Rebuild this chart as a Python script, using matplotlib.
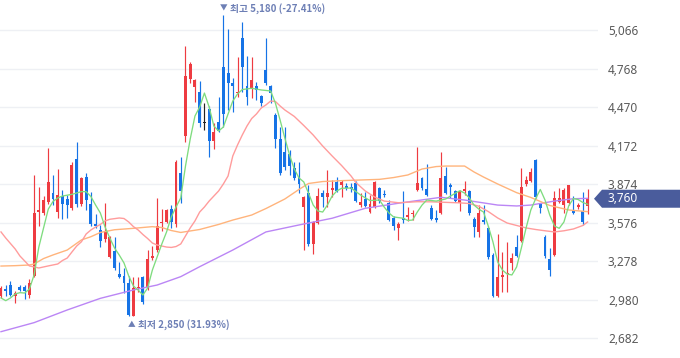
import matplotlib
matplotlib.use("Agg")
import matplotlib.pyplot as plt
from matplotlib.patches import Polygon
from matplotlib.transforms import IdentityTransform
import numpy as np

plt.rcParams['font.family'] = ['Noto Sans CJK KR', 'DejaVu Sans']

# ---------------- data (daily OHLC, oldest -> newest) ----------------
opens = [3007, 3061, 3092, 3007, 3077, 3077, 3015, 3162, 3657, 3650,
         3735, 3804, 3657, 3781, 3758, 3688, 4068, 3719, 3928, 3719,
         3564, 3518, 3448, 3309, 3355, 3177, 3162, 3108, 2852, 3069,
         3154, 3077, 3301, 3363, 3572, 3580, 3680, 3564, 3959, 4246,
         4687, 4625, 4586, 4346, 4455, 4207, 4354, 4780, 4733, 4656,
         4578, 5004, 4633, 4609, 4633, 4555, 4756, 4633, 4408, 4222,
         4122, 4106, 3998, 3928, 3696, 3804, 3410, 3572, 3804, 3773,
         3828, 3890, 3866, 3859, 3851, 3882, 3711, 3758, 3657, 3696,
         3843, 3797, 3727, 3611, 3534, 3611, 3619, 3642, 3828, 3921,
         3835, 3688, 3611, 3650, 3936, 3866, 3820, 3727, 3820, 3820,
         3603, 3503, 3595, 3534, 3324, 3007, 3154, 3177, 3263, 3386,
         3433, 3874, 3897, 4060, 3719, 3464, 3294, 3324, 3735, 3711,
         3727, 3665, 3696, 3665, 3704]
closes = [3069, 3046, 3015, 3030, 3053, 3046, 3108, 3650, 3673, 3750,
          3890, 3758, 3789, 3719, 3711, 4021, 3719, 3921, 3750, 3564,
          3549, 3433, 3503, 3464, 3224, 3154, 3108, 2860, 3069, 3077,
          2961, 3294, 3317, 3549, 3580, 3673, 3580, 4044, 3820, 4710,
          4803, 4679, 4346, 4346, 4207, 4276, 4284, 4416, 4656, 4633,
          4586, 4780, 4547, 4679, 4602, 4501, 4656, 4578, 4222, 3959,
          4006, 4013, 3921, 3874, 3773, 3410, 3580, 3781, 3773, 3804,
          3843, 3820, 3890, 3843, 3835, 3742, 3735, 3704, 3719, 3890,
          3742, 3789, 3595, 3549, 3564, 3595, 3634, 3650, 3882, 3843,
          3789, 3603, 3595, 3921, 3804, 3851, 3742, 3820, 3835, 3650,
          3541, 3650, 3580, 3309, 3007, 3154, 3170, 3185, 3301, 3317,
          3851, 3905, 3967, 3773, 3688, 3317, 3208, 3766, 3766, 3828,
          3866, 3650, 3711, 3580, 3760]
highs = [3084, 3092, 3123, 3046, 3092, 3092, 3139, 3944, 3851, 3781,
         4153, 3944, 3990, 3828, 3789, 4044, 4199, 3928, 3959, 3812,
         3642, 3557, 3727, 3472, 3464, 3270, 3224, 3162, 3154, 3154,
         3162, 3363, 3394, 3766, 3680, 3680, 3711, 4060, 4083, 4942,
         4818, 4687, 4671, 4501, 4478, 4346, 4547, 5180, 5074, 4695,
         4857, 5128, 4865, 4857, 4663, 4563, 5004, 4640, 4424, 4315,
         4315, 4137, 4044, 4044, 3781, 3866, 3588, 3843, 3828, 3982,
         3905, 3928, 3905, 3882, 3882, 3897, 3804, 3812, 3789, 3897,
         3851, 3828, 3750, 3626, 3580, 3820, 3696, 3673, 4160, 3928,
         4029, 3711, 3673, 4122, 4006, 3882, 3828, 3828, 3897, 3828,
         3619, 3711, 3711, 3549, 3340, 3487, 3348, 3425, 3340, 3479,
         3998, 3936, 3998, 4068, 3727, 3479, 3379, 3820, 3843, 3843,
         3866, 3781, 3727, 3812, 3835]
lows = [2992, 3007, 3007, 2953, 3046, 2984, 2992, 3154, 3549, 3634,
        3719, 3711, 3611, 3603, 3611, 3673, 3696, 3704, 3673, 3549,
        3534, 3386, 3425, 3301, 3208, 3146, 3030, 2855, 2850, 3038,
        2945, 3053, 3286, 3348, 3510, 3572, 3534, 3541, 3727, 4199,
        4656, 4509, 4315, 4292, 4083, 4145, 4276, 4315, 4447, 4431,
        4547, 4586, 4486, 4540, 4524, 4478, 4640, 4501, 4153, 3944,
        3982, 3944, 3905, 3804, 3363, 3394, 3332, 3564, 3696, 3696,
        3773, 3812, 3773, 3828, 3812, 3735, 3696, 3696, 3650, 3688,
        3727, 3773, 3588, 3518, 3441, 3572, 3588, 3595, 3820, 3828,
        3781, 3595, 3580, 3642, 3797, 3766, 3735, 3665, 3789, 3634,
        3464, 3464, 3564, 3294, 2999, 2999, 3038, 3038, 3208, 3309,
        3425, 3859, 3890, 3766, 3650, 3301, 3162, 3317, 3727, 3650,
        3711, 3642, 3680, 3557, 3642]

# moving averages (candle index, value)
ma5_idx = [0, 1, 2, 3, 4, 5, 6, 7, 8, 9, 10, 11, 12, 13, 15, 17, 18, 19, 20, 21,
           22, 23, 24, 25, 26, 27, 28, 29, 30, 31, 32, 33, 34, 35, 36, 37, 38, 39, 40, 41,
           42, 43, 44, 45, 46, 47, 48, 49, 50, 51, 53, 55, 57, 58, 59, 60, 61, 62, 63, 64,
           65, 66, 67, 68, 69, 70, 71, 72, 74, 76, 78, 80, 81, 82, 83, 85, 86, 87, 88, 89,
           90, 92, 94, 96, 97, 98, 99, 100, 101, 102, 103, 104, 105, 106, 107, 108, 109, 110, 111, 112,
           113, 114, 115, 116, 117, 118, 119, 120, 121, 122, 123, 124]
ma5_val = [2992, 2971, 2992, 3023, 3033, 3030, 3061, 3170, 3386, 3534, 3680, 3739, 3766, 3781, 3794, 3815, 3815, 3777, 3711, 3650,
           3541, 3456, 3379, 3324, 3263, 3162, 3084, 3053, 3015, 3069, 3208, 3309, 3410, 3503, 3619, 3696, 3766, 4013, 4222, 4400,
           4470, 4578, 4470, 4323, 4284, 4315, 4416, 4516, 4571, 4605, 4615, 4602, 4594, 4501, 4369, 4230, 4098, 3990, 3921, 3890,
           3804, 3711, 3665, 3657, 3711, 3781, 3820, 3841, 3843, 3789, 3746, 3750, 3696, 3650, 3619, 3609, 3592, 3595, 3657, 3711,
           3750, 3742, 3758, 3802, 3822, 3804, 3766, 3711, 3680, 3657, 3549, 3425, 3270, 3208, 3177, 3170, 3232, 3379, 3534, 3673,
           3758, 3832, 3750, 3634, 3549, 3531, 3580, 3704, 3762, 3754, 3731, 3717]

ma20_idx = [0, 1, 3, 4, 6, 7, 8, 10, 12, 13, 14, 15, 16, 17, 18, 19, 20, 21, 22, 23,
            25, 26, 27, 28, 29, 30, 31, 32, 33, 35, 36, 37, 38, 39, 40, 41, 42, 43, 44, 45,
            46, 47, 48, 49, 50, 51, 52, 53, 54, 55, 56, 57, 58, 59, 60, 62, 64, 66, 68, 70,
            72, 74, 75, 77, 79, 81, 84, 88, 91, 94, 97, 99, 101, 103, 105, 107, 109, 111, 113, 115,
            117, 119, 121, 123, 124]
ma20_val = [3503, 3456, 3371, 3317, 3240, 3232, 3224, 3240, 3255, 3282, 3301, 3348, 3394, 3427, 3487, 3518, 3541, 3561, 3588, 3601,
            3611, 3607, 3580, 3544, 3518, 3483, 3452, 3417, 3402, 3386, 3383, 3390, 3410, 3472, 3534, 3588, 3657, 3696, 3742, 3781,
            3820, 3874, 3936, 4091, 4176, 4253, 4323, 4381, 4416, 4462, 4486, 4516, 4513, 4478, 4447, 4397, 4327, 4253, 4168, 4091,
            4017, 3936, 3886, 3820, 3773, 3742, 3729, 3737, 3736, 3732, 3728, 3723, 3702, 3661, 3611, 3572, 3553, 3534, 3522, 3512,
            3503, 3512, 3526, 3553, 3580]

ma60_idx = [0, 3, 6, 7, 9, 11, 14, 17, 19, 21, 24, 28, 32, 34, 36, 38, 42, 46, 49, 53,
            56, 60, 63, 65, 68, 72, 76, 80, 83, 86, 89, 92, 94, 98, 100, 102, 105, 109, 112, 116,
            120, 124]
ma60_val = [3239, 3242, 3247, 3255, 3297, 3325, 3363, 3441, 3466, 3499, 3520, 3531, 3544, 3537, 3514, 3499, 3522, 3561, 3595, 3634,
            3684, 3758, 3832, 3878, 3893, 3900, 3905, 3910, 3924, 3944, 3990, 4009, 4013, 4013, 3967, 3928, 3874, 3807, 3770, 3708,
            3673, 3660]

ma120_idx = [0, 7, 14, 21, 28, 33, 38, 42, 49, 56, 63, 70, 77, 84, 90, 93, 98, 105, 109, 112,
             117, 121, 124]
ma120_val = [2731, 2801, 2899, 2989, 3054, 3092, 3157, 3234, 3363, 3503, 3557, 3609, 3686, 3725, 3756, 3771, 3750, 3711, 3704, 3711,
             3742, 3760, 3763]

yticks = [2682, 2980, 3278, 3576, 3874, 4172, 4470, 4768, 5066]

# ---------------- styles ----------------
RED = '#ee3b41'
BLUE = '#1673e6'
DOJI = '#222222'
LABEL = '#6d7fb5'
BADGE = '#4a5c9c'

fig = plt.figure(figsize=(6.8, 3.58), dpi=100)
fig.patch.set_facecolor('white')
ax = fig.add_axes([0, 0, 598 / 680, 1])
ax.set_facecolor('white')

n = len(closes)
x = np.arange(n)
o = np.array(opens, dtype=float)
c = np.array(closes, dtype=float)
h = np.array(highs, dtype=float)
l = np.array(lows, dtype=float)

ax.set_xlim(-0.21, 126.2)
ax.set_ylim(2527.3, 5298.2)
for s in ax.spines.values():
    s.set_visible(False)
ax.set_xticks([])
ax.set_yticks(yticks)
ax.set_yticklabels([f"{v:,}" for v in yticks])
ax.yaxis.tick_right()
ax.tick_params(axis='y', length=0, pad=7.2, labelsize=8.5, labelcolor='#5a5a5a')
for lab in ax.get_yticklabels():
    lab.set_fontfamily(['Noto Sans', 'DejaVu Sans'])
ax.grid(axis='y', color='#eef0f4', lw=1.0)
ax.set_axisbelow(True)

colors = [RED if cc > oo else (BLUE if cc < oo else DOJI) for oo, cc in zip(o, c)]
ax.vlines(x, l, h, colors=colors, lw=0.85, zorder=2)
bottoms = np.minimum(o, c)
heights = np.maximum(np.abs(c - o), 8)
ax.bar(x, heights, width=0.62, bottom=bottoms, color=colors, linewidth=0, zorder=3)

ax.plot(ma120_idx, ma120_val, color='#bb86f5', lw=1.0, zorder=4)
ax.plot(ma60_idx, ma60_val, color='#ffb47c', lw=1.0, zorder=4)
ax.plot(ma20_idx, ma20_val, color='#ff9c9c', lw=1.0, zorder=4)
ax.plot(ma5_idx, ma5_val, color='#7fdc7f', lw=0.95, zorder=5)

# high / low labels
last = closes[-1]
hi_i = int(np.argmax(h)); hi_v = highs[hi_i]
lo_i = int(np.argmin(l)); lo_v = lows[lo_i]
ax.annotate('▼', xy=(hi_i, hi_v), xytext=(0, 5.2), textcoords='offset points',
            ha='center', va='center', fontsize=5.5, color=LABEL, annotation_clip=False)
ax.annotate(f"최고 {hi_v:,} ({(last / hi_v - 1) * 100:.2f}%)", xy=(hi_i, hi_v), xytext=(4.6, 5.2),
            textcoords='offset points', ha='left', va='center', fontsize=7.0, color=LABEL,
            fontweight='bold', annotation_clip=False)
ax.annotate('▲', xy=(lo_i, lo_v), xytext=(-1, -6), textcoords='offset points',
            ha='center', va='center', fontsize=5.5, color=LABEL, annotation_clip=False)
ax.annotate(f"최저 {lo_v:,} ({(last / lo_v - 1) * 100:.2f}%)", xy=(lo_i, lo_v), xytext=(3.6, -6),
            textcoords='offset points', ha='left', va='center', fontsize=7.0, color=LABEL,
            fontweight='bold', annotation_clip=False)

# current price badge
fig.canvas.draw()
yc = ax.transData.transform((0, last))[1]
pts = [(594, yc), (602, yc + 9), (680, yc + 9), (680, yc - 9), (602, yc - 9)]
badge = Polygon(pts, closed=True, facecolor=BADGE, edgecolor='none',
                transform=IdentityTransform(), zorder=10)
fig.add_artist(badge)
fig.text(608 / 680, yc / 358, f"{last:,}", ha='left', va='center', color='white',
         fontsize=8.5, family=['Noto Sans', 'DejaVu Sans'], zorder=11)

fig.savefig('out.png', dpi=100)
